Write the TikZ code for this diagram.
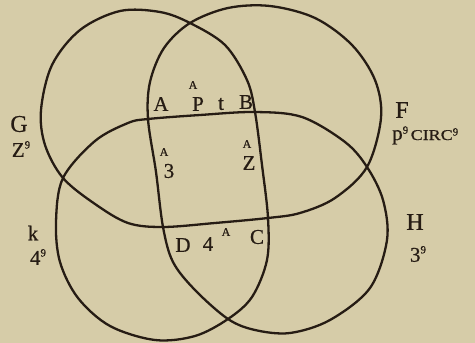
\documentclass[tikz,border=0pt]{standalone}
\usepackage{fontspec}
\setmainfont{Liberation Serif}
\newfontfamily\inkfont[FakeBold=0.6]{Liberation Serif}
\definecolor{paper}{RGB}{214,204,168}
\definecolor{ink}{RGB}{38,28,20}
\newcommand{\supnine}[1]{\raisebox{#1}{\fontsize{11}{11}\selectfont 9}}
\begin{document}
\begin{tikzpicture}[x=1pt,y=-1pt,
  lab/.style={text=ink,inner sep=0pt,font=\inkfont\fontsize{21}{21}\selectfont},
  big/.style={text=ink,inner sep=0pt,font=\inkfont\fontsize{24}{24}\selectfont},
  sm/.style={text=ink,inner sep=0pt,font=\inkfont\fontsize{12}{12}\selectfont},
  curve/.style={draw=ink,line width=2.3pt,line join=round}]
\fill[paper] (0,0) rectangle (475,343);
\useasboundingbox (0,0) rectangle (475,343);
% one interlaced closed curve forming the four rings
\draw[curve] plot[smooth cycle,tension=0.55] coordinates {
 (190,23) (225,45) (247,80) (255,112) (262,165) (268,218) (267,260) (252,297)
 (228,319) (195,336) (155,340) (110,326) (78,298) (60,262) (56,222) (63,178)
 (95,141) (128,123) (148,119) (200,115) (255,112) (302,117) (345,142) (367,167)
 (383,200) (387,240) (370,288) (330,320) (290,333) (255,330) (228,319) (195,290)
 (173,262) (163,227) (156,172) (148,119) (150,82) (164,48) (190,23) (228,8)
 (270,6) (315,18) (352,45) (375,80) (381,118) (367,167) (335,198) (300,213)
 (268,218) (215,223) (163,227) (128,223) (95,204) (63,178) (45,145) (41,110)
 (52,65) (80,30) (120,11) (160,12)};
% inner labels
\node[lab] (vA) at (161,104) {A};
\node[sm]  (supP) at (193,85) {A};
\node[lab] (nP) at (198,104) {P};
\node[lab] (nt) at (221,104) {t};
\node[lab] (vB) at (246,102) {B};
\node[sm]  (sup3) at (164,152) {A};
\node[lab] (n3) at (169,171) {3};
\node[sm]  (supZ) at (247,144) {A};
\node[lab] (nZ) at (249,163) {Z};
\node[lab] (vD) at (183,245) {D};
\node[lab] (n4) at (208,244) {4};
\node[sm]  (sup4) at (226,232) {A};
\node[lab] (vC) at (257,237) {C};
% outer labels
\node[big] (lG) at (19,124) {G};
\node[lab] (lG2) at (21,149) {Z\supnine{0.4em}};
\node[big] (lF) at (402,110) {F};
\node[anchor=base west,inner sep=0pt,text=ink] (lF2) at (392,140)
  {\inkfont\fontsize{21}{21}\selectfont p\supnine{0.3em}\fontsize{15}{15}\selectfont\,\scalebox{1.2}[1]{CIRC}\supnine{0.3em}};
\node[big] (lH) at (415,222) {H};
\node[lab] (lH2) at (418,254) {3\supnine{0.4em}};
\node[lab] (lK) at (33,233) {k};
\node[lab] (lK2) at (38,257) {4\supnine{0.4em}};
\end{tikzpicture}
\end{document}
